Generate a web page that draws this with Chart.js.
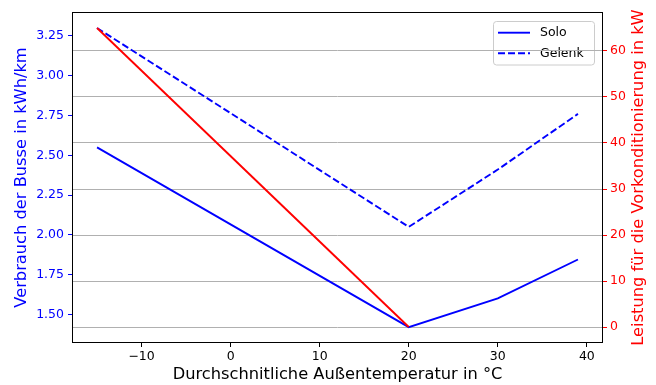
<!DOCTYPE html>
<html>
<head>
<meta charset="utf-8">
<script src="https://cdn.jsdelivr.net/npm/chart.js@4/dist/chart.umd.min.js"></script>
<style>
  html, body { margin: 0; padding: 0; background: #fff; }
  #wrap { width: 656px; height: 385px; position: relative; }
</style>
</head>
<body>
<div id="wrap"><canvas id="c"></canvas></div>
<script>
// ---- data ----
const temps = [-15, 20, 30, 39];
const soloValues = [2.55, 1.42, 1.60, 1.845];
const gelenkValues = [3.30, 2.05, 2.41, 2.76];
const heatTemps = [-15, 20];
const heatPower = [65, 0];

const xTicks = [-10, 0, 10, 20, 30, 40];
const leftTicks = [1.50, 1.75, 2.00, 2.25, 2.50, 2.75, 3.00, 3.25];
const rightTicks = [0, 10, 20, 30, 40, 50, 60];

const xTitle = 'Durchschnitliche Außentemperatur in °C';
const leftTitle = 'Verbrauch der Busse in kWh/km';
const rightTitle = 'Leistung für die Vorkonditionierung in kW';
const legendLabels = ['Solo', 'Gelenk'];

const BLUE = '#0000ff', RED = '#ff0000';
const FONT = 'DejaVu Sans';
const TICK_SIZE = 12.5, TITLE_SIZE = 16.25;

const toXY = (xs, ys) => xs.map((x, i) => ({ x: x, y: ys[i] }));
const fixTicks = arr => function (scale) { scale.ticks = arr.map(v => ({ value: v })); };

const framePlugin = {
  id: 'frame',
  beforeDraw(chart) {
    // legend box (drawn under the grid, as in the reference)
    const ctx = chart.ctx;
    const x0 = 493.5, y0 = 21.5, w = 101, h = 43.5, r = 3;
    ctx.save();
    ctx.beginPath();
    ctx.moveTo(x0 + r, y0);
    ctx.arcTo(x0 + w, y0, x0 + w, y0 + h, r);
    ctx.arcTo(x0 + w, y0 + h, x0, y0 + h, r);
    ctx.arcTo(x0, y0 + h, x0, y0, r);
    ctx.arcTo(x0, y0, x0 + w, y0, r);
    ctx.closePath();
    ctx.fillStyle = 'rgba(255,255,255,0.8)';
    ctx.fill();
    ctx.strokeStyle = '#cccccc';
    ctx.lineWidth = 1;
    ctx.stroke();
    const rows = [
      { label: legendLabels[0], dash: [], y: 32.7 },
      { label: legendLabels[1], dash: [7, 3], y: 53.3 }
    ];
    rows.forEach(rw => {
      ctx.beginPath();
      ctx.setLineDash(rw.dash);
      ctx.strokeStyle = BLUE;
      ctx.lineWidth = 1.9;
      ctx.moveTo(498, rw.y);
      ctx.lineTo(530, rw.y);
      ctx.stroke();
      ctx.setLineDash([]);
      ctx.fillStyle = '#000';
      ctx.font = TICK_SIZE + 'px "' + FONT + '"';
      ctx.textBaseline = 'middle';
      ctx.textAlign = 'left';
      ctx.fillText(rw.label, 540, rw.y);
    });
    ctx.restore();
  },
  afterDraw(chart) {
    const a = chart.chartArea;
    const ctx = chart.ctx;
    ctx.save();
    ctx.strokeStyle = '#000';
    ctx.lineWidth = 1;
    ctx.strokeRect(Math.round(a.left) - 0.5, Math.round(a.top) - 0.5,
                   Math.round(a.right - a.left) + 1, Math.round(a.bottom - a.top) + 1);
    // vertical axis titles (both read bottom-to-top)
    const cy = (a.top + a.bottom) / 2;
    ctx.font = TITLE_SIZE + 'px "' + FONT + '"';
    ctx.textAlign = 'center';
    ctx.textBaseline = 'alphabetic';
    [[leftTitle, BLUE, 26], [rightTitle, RED, 643]].forEach(([t, col, bx]) => {
      ctx.save();
      ctx.translate(bx, cy);
      ctx.rotate(-Math.PI / 2);
      ctx.fillStyle = col;
      ctx.fillText(t, 0, 0);
      ctx.restore();
    });
    ctx.restore();
  }
};

new Chart(document.getElementById('c'), {
  type: 'line',
  data: {
    datasets: [
      {
        label: 'Vorkonditionierung',
        data: toXY(heatTemps, heatPower),
        yAxisID: 'y2',
        borderColor: RED, backgroundColor: RED,
        borderWidth: 1.9, pointRadius: 0, tension: 0, order: 0
      },
      {
        label: legendLabels[0],
        data: toXY(temps, soloValues),
        yAxisID: 'y',
        borderColor: BLUE, backgroundColor: BLUE,
        borderWidth: 1.9, pointRadius: 0, tension: 0, order: 1
      },
      {
        label: legendLabels[1],
        data: toXY(temps, gelenkValues),
        yAxisID: 'y',
        borderColor: BLUE, backgroundColor: BLUE, borderDash: [7, 3],
        borderWidth: 1.9, pointRadius: 0, tension: 0, order: 1
      }
    ]
  },
  options: {
    responsive: true,
    maintainAspectRatio: false,
    animation: false,
    devicePixelRatio: 1,
    layout: { padding: { top: 13, left: 0, right: 0, bottom: 0 } },
    plugins: { legend: { display: false }, tooltip: { enabled: false } },
    scales: {
      x: {
        type: 'linear', min: -17.7, max: 41.7,
        afterBuildTicks: fixTicks(xTicks),
        afterFit(s) { s.height = 43; },
        border: { display: false },
        grid: { drawOnChartArea: false, drawTicks: true, tickLength: 5, tickColor: '#000', tickWidth: 1 },
        ticks: {
          color: '#000', padding: 2, maxRotation: 0, autoSkip: false,
          font: { family: FONT, size: TICK_SIZE },
          callback: v => String(v).replace('-', '\u2212')
        },
        title: {
          display: true, text: xTitle, color: '#000',
          font: { family: FONT, size: TITLE_SIZE }, padding: { top: 0, bottom: 0 }
        }
      },
      y: {
        type: 'linear', position: 'left', min: 1.3265, max: 3.394,
        afterBuildTicks: fixTicks(leftTicks),
        afterFit(s) { s.width = 73; },
        border: { display: false },
        grid: { drawOnChartArea: false, drawTicks: true, tickLength: 5, tickColor: BLUE, tickWidth: 1 },
        ticks: {
          color: BLUE, padding: 4, autoSkip: false,
          font: { family: FONT, size: TICK_SIZE },
          callback: v => Number(v).toFixed(2)
        },
        title: { display: false }
      },
      y2: {
        type: 'linear', position: 'right', min: -3.25, max: 68.25,
        afterBuildTicks: fixTicks(rightTicks),
        afterFit(s) { s.width = 54; },
        border: { display: false },
        grid: { drawOnChartArea: true, color: '#b0b0b0', lineWidth: 1, drawTicks: true, tickLength: 5, tickColor: RED, tickWidth: 1 },
        ticks: {
          color: RED, padding: 3, autoSkip: false,
          font: { family: FONT, size: TICK_SIZE },
          callback: v => String(v)
        },
        title: { display: false }
      }
    }
  },
  plugins: [framePlugin]
});
</script>
</body>
</html>
